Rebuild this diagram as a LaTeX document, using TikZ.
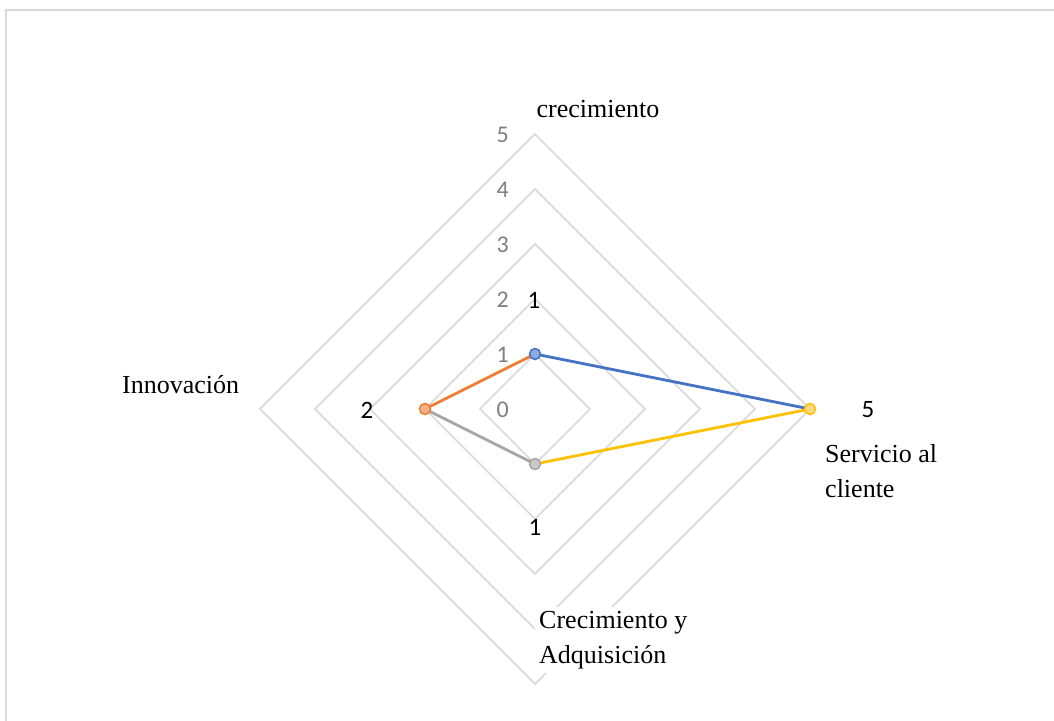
\documentclass[tikz,border=0pt]{standalone}
\usepackage{fontspec}
\setmainfont{Liberation Serif}
\newfontfamily\numfont{Carlito}
\definecolor{gridc}{HTML}{D9D9D9}
\definecolor{tickc}{HTML}{7F7F7F}
\definecolor{sblue}{HTML}{4472C4}
\definecolor{sbluel}{HTML}{8FAADC}
\definecolor{sorange}{HTML}{ED7D31}
\definecolor{sorangel}{HTML}{F4B183}
\definecolor{sgray}{HTML}{A5A5A5}
\definecolor{sgrayl}{HTML}{C9C9C9}
\definecolor{syellow}{HTML}{FFC000}
\definecolor{syellowl}{HTML}{FFD68A}
\tikzset{
  frame/.style={draw=gridc, line width=1.5pt},
  gridline/.style={draw=gridc, line width=1.5pt, line join=miter},
  ticklabel/.style={font=\numfont\fontsize{24}{28}\selectfont, text=tickc, inner sep=0pt, anchor=east},
  datalabel/.style={font=\numfont\fontsize{25}{30}\selectfont, text=black, inner sep=0pt},
  catlabel/.style={font=\fontsize{26}{35}\selectfont, inner sep=4pt, align=left, fill=white},
  serie/.style={line width=2.8pt, line cap=round},
  mk/.style={circle, line width=1.5pt, minimum size=11pt, inner sep=0pt}
}
\begin{document}
\begin{tikzpicture}[x=1pt,y=-1pt]
\useasboundingbox (0,0) rectangle (1054,720);
\draw[frame] (6,722) -- (6,10) -- (1056,10);
% grid
\foreach \r in {1,...,5}
  \draw[gridline] (535,409-55*\r) -- (535+55*\r,409) -- (535,409+55*\r) -- (535-55*\r,409) -- cycle;
% tick labels
\foreach \r in {0,...,5}
  \node[ticklabel] (t\r) at (509,410-55*\r) {\r};
% data points
\coordinate (pA) at (535,354);
\coordinate (pB) at (810,409);
\coordinate (pC) at (535,464);
\coordinate (pD) at (425,409);
\draw[serie, sblue] (pA) -- (pB);
\draw[serie, syellow] (pB) -- (pC);
\draw[serie, sgray] (pC) -- (pD);
\draw[serie, sorange] (pD) -- (pA);
\node[mk, draw=sblue, fill=sbluel] (mA) at (pA) {};
\node[mk, draw=syellow, fill=syellowl] (mB) at (pB) {};
\node[mk, draw=sgray, fill=sgrayl] (mC) at (pC) {};
\node[mk, draw=sorange, fill=sorangel] (mD) at (pD) {};
% data labels
\node[datalabel] (lA) at (534,300) {1};
\node[datalabel] (lB) at (868,410) {5};
\node[datalabel] (lC) at (535,527) {1};
\node[datalabel] (lD) at (367,410) {2};
% category labels
\node[catlabel, anchor=base] (cA) at (598,117) {crecimiento};
\node[catlabel, anchor=base west] (cB) at (821,497) {Servicio al\\cliente};
\node[catlabel, anchor=base west] (cC) at (535,663) {Crecimiento y\\Adquisición};
\node[catlabel, anchor=base west] (cD) at (118,393) {Innovación};
\end{tikzpicture}
\end{document}
